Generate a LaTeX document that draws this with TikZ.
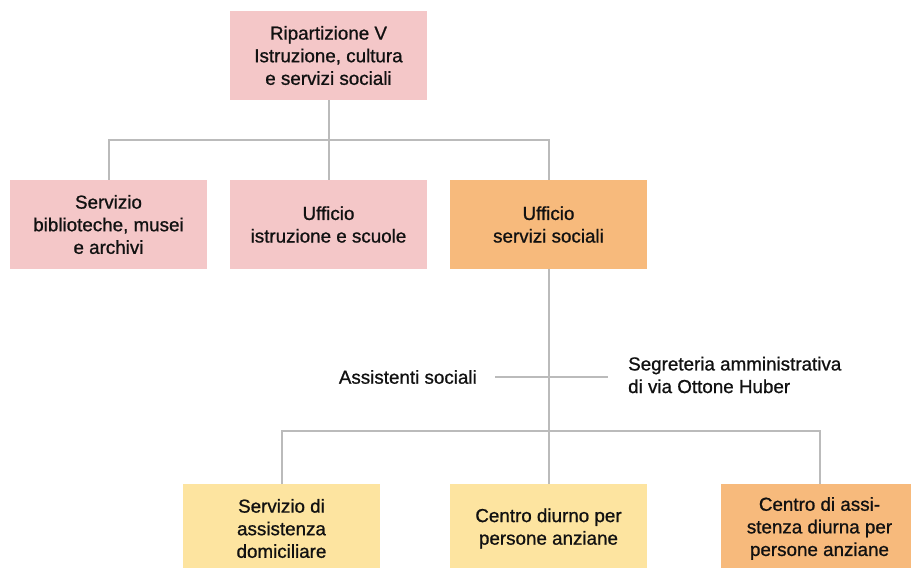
\documentclass[tikz,border=0pt]{standalone}
\usepackage{fontspec}
\setmainfont{Liberation Sans}[FakeBold=0.9]
\definecolor{boxpink}{HTML}{F4C7C8}
\definecolor{boxorange}{HTML}{F7BA7C}
\definecolor{boxyellow}{HTML}{FDE4A0}
\definecolor{linegray}{HTML}{BBBBBB}
\definecolor{txt}{HTML}{111111}
\tikzset{
  unit/.style={rectangle, minimum width=197pt, minimum height=89pt, inner sep=0pt, align=center, text=txt, font=\fontsize{18.8}{22.6}\selectfont},
  pinkbox/.style={unit, fill=boxpink},
  orangebox/.style={unit, fill=boxorange},
  yellowbox/.style={unit, fill=boxyellow},
  conn/.style={draw=linegray, line width=2pt},
  lbl/.style={text=txt, inner sep=0pt, font=\fontsize{18.8}{22.6}\selectfont}
}
\begin{document}
\begin{tikzpicture}[x=1pt,y=-1pt]
\useasboundingbox (0,0) rectangle (911,568);
\coordinate (h1) at (328.5,140);
\coordinate (h1l) at (108.5,140);
\coordinate (h1r) at (548.5,140);
\coordinate (h2) at (548.5,431);
\coordinate (h2l) at (281.5,431);
\coordinate (h2r) at (819.5,431);
\coordinate (sl) at (495,377);
\coordinate (sr) at (608,377);
\node[pinkbox] (top) at (328.5,55.5) {Ripartizione V\\Istruzione, cultura\\e servizi sociali};
\node[pinkbox] (r1) at (108.5,224.5) {Servizio\\biblioteche, musei\\e archivi};
\node[pinkbox] (r2) at (328.5,224.5) {Ufficio\\istruzione e scuole};
\node[orangebox] (r3) at (548.5,224.5) {Ufficio\\servizi sociali};
\node[yellowbox] (b1) at (281.5,528.5) {Servizio di\\assistenza\\domiciliare};
\node[yellowbox] (b2) at (548.5,528.5) {Centro diurno per\\persone anziane};
\node[orangebox] (b3) at (819.5,528.5) {Centro di assi-\\stenza diurna per\\persone anziane};
\node[lbl, anchor=east] (as) at (477,377) {Assistenti sociali};
\node[lbl, anchor=west, align=left] (sa) at (628,375) {Segreteria amministrativa\\di via Ottone Huber};
\draw[conn] (top.south) -- (h1);
\draw[conn] (r1.north) -- (h1l) -- (h1r) -- (r3.north);
\draw[conn] (h1) -- (r2.north);
\draw[conn] (r3.south) -- (b2.north);
\draw[conn] (b1.north) -- (h2l) -- (h2r) -- (b3.north);
\draw[conn] (sl) -- (sr);
\end{tikzpicture}
\end{document}
